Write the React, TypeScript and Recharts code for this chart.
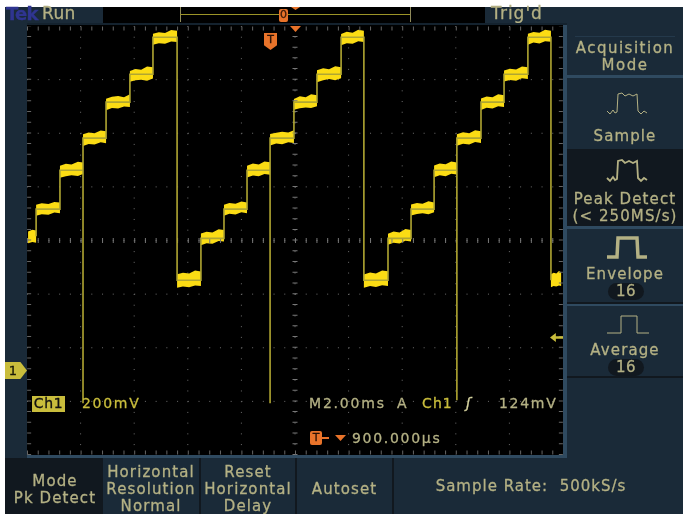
import { ComposedChart, Area, Line, XAxis, YAxis, CartesianGrid, ReferenceLine } from "recharts";

// time in ms (2 ms/div), level in mV (200 mV/div) above the channel 1 ground marker
const bandTime = [
  0.04, 0.2, 0.34,
  0.34, 0.55, 0.8, 1.02, 1.23,
  1.23, 1.45, 1.66, 1.9, 2.09,
  2.09, 2.3, 2.52, 2.75, 2.95,
  2.95, 3.17, 3.4, 3.62, 3.84,
  3.84, 4.05, 4.26, 4.48, 4.7,
  4.7, 4.92, 5.15, 5.38, 5.6,
  5.6, 5.82, 6.05, 6.27, 6.49,
  6.49, 6.7, 6.92, 7.15, 7.35,
  7.35, 7.55, 7.78, 8.0, 8.21,
  8.21, 8.43, 8.65, 8.86, 9.07,
  9.07, 9.3, 9.52, 9.75, 9.96,
  9.96, 10.18, 10.4, 10.6, 10.82,
  10.82, 11.05, 11.27, 11.5, 11.72,
  11.72, 11.93, 12.15, 12.36, 12.57,
  12.57, 12.8, 13.02, 13.25, 13.47,
  13.47, 13.68, 13.9, 14.12, 14.33,
  14.33, 14.55, 14.76, 14.98, 15.19,
  15.19, 15.4, 15.62, 15.83, 16.04,
  16.04, 16.27, 16.5, 16.72, 16.94,
  16.94, 17.15, 17.37, 17.58, 17.8,
  17.8, 18.02, 18.25, 18.47, 18.69,
  18.69, 18.9, 19.12, 19.33, 19.55,
  19.55, 19.65, 19.75, 19.85, 19.93,
];
const bandLow = [
  474, 478, 476,
  576, 582, 580, 588, 586,
  718, 724, 727, 725, 732,
  836, 844, 842, 850, 847,
  970, 978, 976, 984, 982,
  1076, 1082, 1084, 1080, 1088,
  1214, 1220, 1218, 1226, 1224,
  308, 312, 310, 316, 314,
  466, 474, 472, 482, 480,
  576, 584, 581, 589, 586,
  719, 726, 724, 732, 729,
  838, 846, 843, 850, 848,
  972, 977, 980, 978, 985,
  1074, 1082, 1086, 1082, 1089,
  1212, 1220, 1218, 1227, 1224,
  308, 314, 311, 317, 314,
  468, 476, 473, 483, 480,
  577, 583, 586, 582, 589,
  720, 727, 724, 733, 730,
  837, 845, 842, 851, 848,
  971, 979, 976, 985, 982,
  1077, 1083, 1080, 1089, 1086,
  1214, 1222, 1219, 1227, 1225,
  310, 314, 312, 316, 314,
];
const bandHigh = [
  518, 524, 521,
  617, 623, 620, 628, 626,
  763, 770, 767, 778, 775,
  880, 887, 884, 894, 891,
  1013, 1020, 1023, 1018, 1029,
  1116, 1124, 1121, 1133, 1130,
  1255, 1261, 1258, 1269, 1266,
  358, 364, 361, 372, 368,
  510, 517, 514, 526, 523,
  617, 624, 621, 629, 626,
  763, 771, 767, 779, 776,
  881, 886, 890, 887, 895,
  1012, 1022, 1018, 1029, 1026,
  1119, 1126, 1123, 1134, 1130,
  1254, 1263, 1259, 1270, 1266,
  357, 365, 361, 372, 369,
  509, 518, 514, 527, 523,
  618, 624, 621, 630, 626,
  764, 771, 768, 779, 775,
  880, 888, 884, 895, 891,
  1014, 1021, 1018, 1029, 1026,
  1118, 1125, 1122, 1133, 1130,
  1255, 1262, 1259, 1270, 1266,
  358, 364, 361, 370, 366,
];

// thin trace: the rising edges, falling edges and the glitches below the step at each 2.09 / 9.07 / 16.04 ms
const edgeTime = [
  0.34, 0.34, 1.23, 1.23, 2.09, 2.09, 2.09, 2.95, 2.95, 3.84, 3.84, 4.7, 4.7, 5.6, 5.6,
  6.49, 6.49, 7.35, 7.35, 8.21, 8.21, 9.07, 9.07, 9.07, 9.96, 9.96, 10.82, 10.82, 11.72, 11.72, 12.57, 12.57,
  13.47, 13.47, 14.33, 14.33, 15.19, 15.19, 16.04, 16.04, 16.04, 16.94, 16.94, 17.8, 17.8, 18.69, 18.69, 19.55, 19.55,
];
const edgeLevel = [
  500, 601, 601, 746, 746, -123, 866, 866, 1000, 1000, 1104, 1104, 1242, 1242, 336,
  336, 492, 492, 601, 601, 746, 746, -123, 866, 866, 1000, 1000, 1104, 1104, 1242, 1242, 336,
  336, 492, 492, 601, 601, 746, 746, -112, 866, 866, 1000, 1000, 1104, 1104, 1242, 1242, 336,
];

const xTicks = [2, 4, 6, 8, 10, 12, 14, 16, 18];
const yTicks = [1084, 884, 684, 484, 284, 84, -116];
const centerTime = 10;
const centerLevel = 484;

const bandData = bandTime.map((t, i) => ({ t, band: [bandLow[i], bandHigh[i]] }));
const edgeData = edgeTime.map((t, i) => ({ t, v: edgeLevel[i] }));

const PANEL = "#1a2a38";
const DARK = "#11181f";
const EDGE = "#2f4a60";
const TEXT = "#b4b184";
const YELLOW = "#c9bd3c";
const ORANGE = "#e8732a";

function Box({ x, y, w, h, bg, style }: any) {
  return <div style={{ position: "absolute", left: x, top: y, width: w, height: h, background: bg, ...style }} />;
}

function Label({ x, y, w, children, color = TEXT, size = 15, spacing = 1.1, align = "center", lh = 17 }: any) {
  return (
    <div
      style={{
        position: "absolute",
        left: x,
        top: y,
        width: w,
        color,
        fontSize: size,
        lineHeight: `${lh}px`,
        letterSpacing: spacing,
        textAlign: align,
        whiteSpace: "pre",
        WebkitTextStroke: `0.3px ${color}`,
      }}
    >
      {children}
    </div>
  );
}

function Icon({ x, y, points, width = 1 }: any) {
  return (
    <svg style={{ position: "absolute", left: x, top: y }} width={44} height={28}>
      <polyline points={points} fill="none" stroke={TEXT} strokeWidth={width} />
    </svg>
  );
}

const NOISY_PULSE = "2,20 5,23 8,19 10,22 12,21 13,3 17,2 20,5 24,3 28,5 32,3 33,20 36,23 39,20 42,22";

export default function App() {
  return (
    <div
      style={{
        position: "absolute",
        left: 0,
        top: 0,
        width: 683,
        height: 514,
        overflow: "hidden",
        background: "#fff",
        fontFamily: "'DejaVu Sans', sans-serif",
        filter: "blur(0.4px)",
      }}
    >
      <Box x={5} y={7} w={678} h={507} bg={PANEL} />

      {/* status bar */}
      <Box x={103} y={7} w={382} h={16} bg="#000" />
      <Label x={6} y={3} w={32} color="#2f3590" size={18} spacing={-0.8} align="left" lh={22}>
        <b>Tek</b>
      </Label>
      <Label x={42} y={3} w={50} size={17} spacing={0.4} align="left" lh={20}>Run</Label>
      <Label x={491} y={3} w={70} size={17} spacing={1} align="left" lh={20}>Trig'd</Label>
      <Box x={180} y={7} w={1} h={15} bg="#8f8a5a" />
      <Box x={410} y={7} w={1} h={15} bg="#8f8a5a" />
      <Box x={180} y={14} w={230} h={1} bg="#9c9428" />
      <Box x={279} y={9} w={9} h={13} bg={ORANGE} style={{ borderRadius: 2 }} />
      <Label x={279} y={8} w={9} color="#3a1a08" size={11} spacing={0} lh={14}>0</Label>
      <Box x={291} y={7} w={9} h={3} bg={ORANGE} style={{ clipPath: "polygon(0 0,100% 0,50% 100%)" }} />

      {/* graticule and waveform */}
      <Box x={27} y={23} w={540} h={435} bg={EDGE} />
      <Box x={27} y={23} w={540} h={2} bg="#14222e" />
      <Box x={27} y={25} w={536} h={430} bg="#000" />
      <div style={{ position: "absolute", left: 27, top: 26 }}>
        <ComposedChart width={536} height={429} data={bandData} margin={{ top: 0, right: 0, bottom: 0, left: 0 }}>
          <CartesianGrid
            stroke="#6e6e6e"
            strokeDasharray="1 9.72"
            horizontalValues={yTicks}
            verticalValues={xTicks}
          />
          <XAxis dataKey="t" type="number" domain={[0, 20]} hide allowDuplicatedCategory={false} />
          <YAxis type="number" domain={[-316, 1284]} hide />
          <ReferenceLine y={centerLevel} stroke="#777" strokeDasharray="1 9.72" strokeWidth={5} />
          <ReferenceLine x={centerTime} stroke="#777" strokeDasharray="1 9.72" strokeWidth={5} />
          <ReferenceLine y={1275} stroke="#666" strokeDasharray="1 9.72" strokeWidth={4} />
          <ReferenceLine y={-307} stroke="#666" strokeDasharray="1 9.72" strokeWidth={4} />
          <ReferenceLine x={0.08} stroke="#666" strokeDasharray="1 9.72" strokeWidth={4} />
          <ReferenceLine x={19.92} stroke="#666" strokeDasharray="1 9.72" strokeWidth={4} />
          <Line
            data={edgeData}
            dataKey="v"
            type="linear"
            stroke="#b0a632"
            strokeWidth={1.6}
            dot={false}
            activeDot={false}
            isAnimationActive={false}
          />
          <Area
            dataKey="band"
            type="linear"
            stroke="none"
            fill="#fbdc14"
            fillOpacity={1}
            dot={false}
            activeDot={false}
            isAnimationActive={false}
          />
        </ComposedChart>
      </div>

      {/* markers on the graticule */}
      <Box x={5} y={362} w={22} h={17} bg={YELLOW} style={{ clipPath: "polygon(0 0,70% 0,100% 50%,70% 100%,0 100%)" }} />
      <Label x={7} y={362} w={12} color="#1a1a08" size={13} spacing={0} lh={17}>1</Label>
      <Box x={550} y={333} w={13} h={9} bg={YELLOW} style={{ clipPath: "polygon(0 50%,45% 0,45% 35%,100% 35%,100% 65%,45% 65%,45% 100%)" }} />
      <Box x={264} y={33} w={13} h={17} bg={ORANGE} style={{ clipPath: "polygon(0 0,100% 0,100% 72%,50% 100%,0 72%)" }} />
      <Label x={264} y={33} w={13} color="#2a1206" size={11} spacing={0} lh={14}>T</Label>
      <Box x={290} y={26} w={11} h={6} bg={ORANGE} style={{ clipPath: "polygon(0 0,100% 0,50% 100%)" }} />

      {/* readouts */}
      <Box x={32} y={396} w={33} h={16} bg={YELLOW} />
      <Label x={32} y={395} w={33} color="#111" size={14} spacing={0.6}>Ch1</Label>
      <Label x={82} y={395} w={70} color={YELLOW} size={14} spacing={1.7} align="left">200mV</Label>
      <Label x={309} y={395} w={86} color={TEXT} size={14} spacing={1.8} align="left">M2.00ms</Label>
      <Label x={397} y={395} w={16} color={TEXT} size={14} spacing={0} align="left">A</Label>
      <Label x={422} y={395} w={36} color={YELLOW} size={14} spacing={1.1} align="left">Ch1</Label>
      <Label x={466} y={395} w={14} color="#d8d5a0" size={14} spacing={0} align="left"><i>ʃ</i></Label>
      <Label x={499} y={395} w={62} color={TEXT} size={14} spacing={1.7} align="left">124mV</Label>
      <Box x={310} y={431} w={12} h={14} bg={ORANGE} style={{ borderRadius: 2 }} />
      <Label x={310} y={430} w={12} color="#2a1206" size={11} spacing={0} lh={16}>T</Label>
      <Box x={322} y={437} w={7} h={2} bg={ORANGE} />
      <Box x={335} y={435} w={11} h={6} bg={ORANGE} style={{ clipPath: "polygon(0 0,100% 0,50% 100%)" }} />
      <Label x={352} y={430} w={100} color={TEXT} size={14} spacing={1.7} align="left">900.000µs</Label>

      {/* side menu */}
      <Box x={575} y={36} w={100} h={1} bg="#24394b" />
      <Label x={567} y={40} w={116} spacing={1.5} lh={17}>{"Acquisition\nMode"}</Label>
      <Box x={567} y={75} w={116} h={3} bg={EDGE} />
      <Icon x={605} y={91} points={NOISY_PULSE} />
      <Label x={567} y={128} w={116}>Sample</Label>
      <Box x={567} y={149} w={116} h={77} bg={DARK} />
      <Icon x={605} y={158} width={1.8} points={NOISY_PULSE} />
      <Label x={567} y={191} w={116} lh={17}>{"Peak Detect\n(< 250MS/s)"}</Label>
      <Box x={567} y={226} w={116} h={3} bg={EDGE} />
      <Icon x={605} y={234} width={3.5} points="2,23 12,23 13,4 32,4 33,23 42,23" />
      <Label x={567} y={266} w={116}>Envelope</Label>
      <Box x={608} y={283} w={36} h={17} bg={DARK} style={{ borderRadius: 9 }} />
      <Label x={608} y={284} w={36} spacing={0.4} lh={15}>16</Label>
      <Box x={567} y={302} w={116} h={2} bg={DARK} />
      <Box x={567} y={304} w={116} h={2} bg={EDGE} />
      <Icon x={605} y={312} points="2,21 16,21 16,4 32,4 32,21 44,21" />
      <Label x={567} y={342} w={116}>Average</Label>
      <Box x={608} y={359} w={36} h={17} bg={DARK} style={{ borderRadius: 9 }} />
      <Label x={608} y={360} w={36} spacing={0.4} lh={15}>16</Label>
      <Box x={567} y={376} w={116} h={2} bg={DARK} />

      {/* bottom menu */}
      <Box x={5} y={458} w={96} h={56} bg={DARK} />
      <Box x={101} y={458} w={2} h={56} bg={DARK} />
      <Box x={199} y={458} w={2} h={56} bg={DARK} />
      <Box x={295} y={458} w={2} h={56} bg={DARK} />
      <Box x={392} y={458} w={2} h={56} bg={DARK} />
      <Label x={7} y={473} w={96} lh={17}>{"Mode\nPk Detect"}</Label>
      <Label x={103} y={464} w={96} lh={17}>{"Horizontal\nResolution\nNormal"}</Label>
      <Label x={201} y={464} w={94} lh={17}>{"Reset\nHorizontal\nDelay"}</Label>
      <Label x={297} y={481} w={95} lh={17}>Autoset</Label>
      <Label x={394} y={478} w={274} spacing={1}>Sample Rate:  500kS/s</Label>
    </div>
  );
}
